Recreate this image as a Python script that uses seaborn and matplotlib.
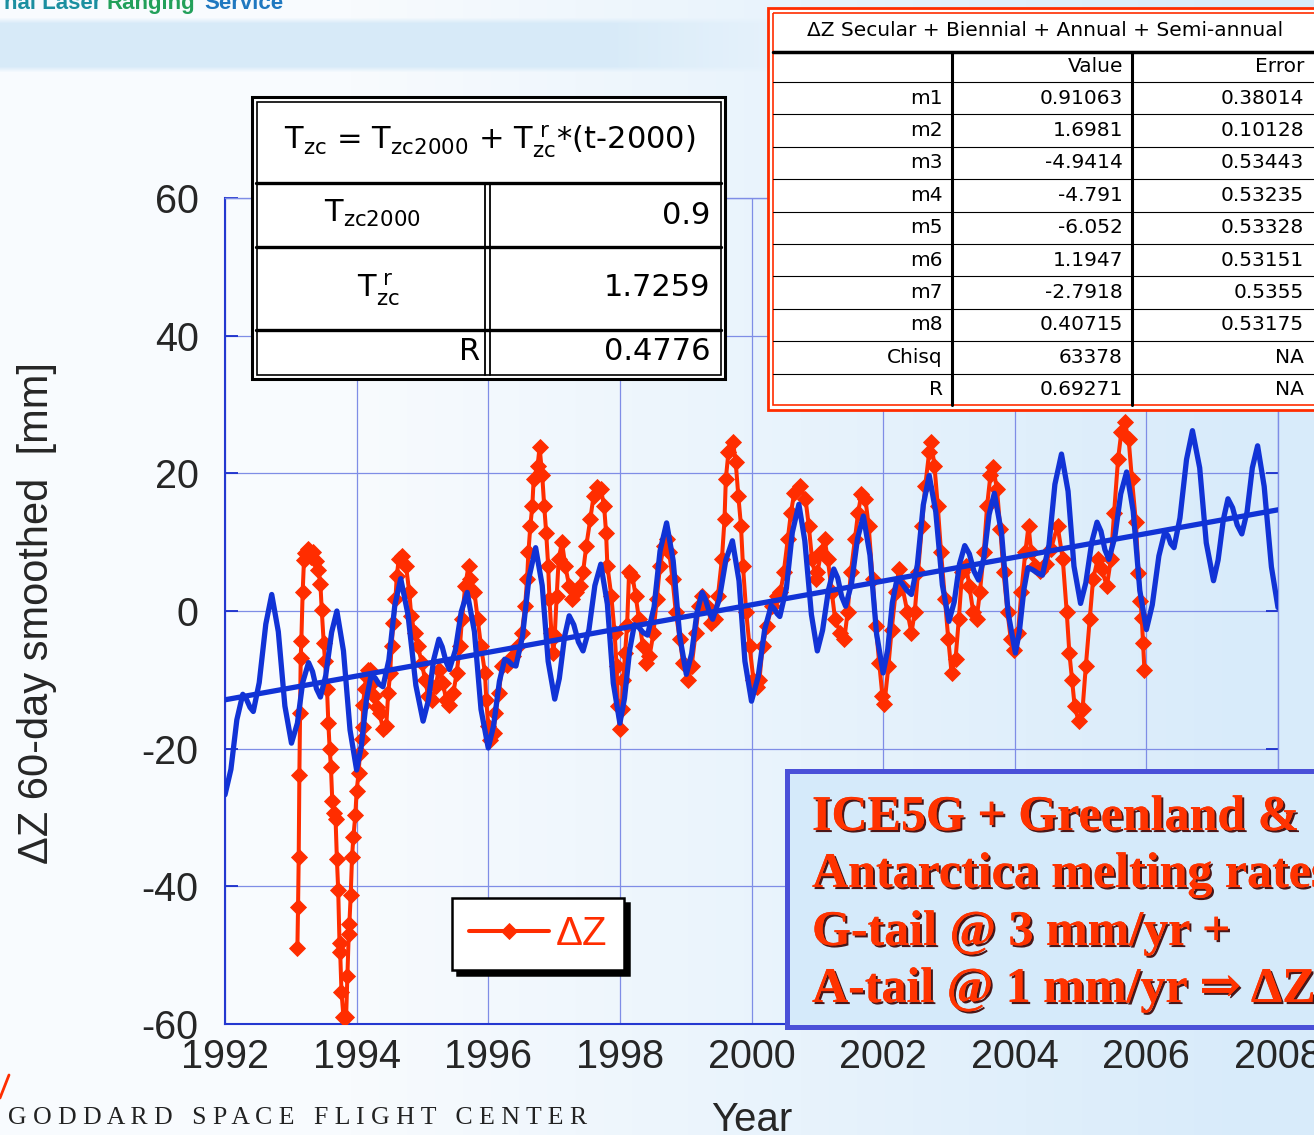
import numpy as np
import pandas as pd
import matplotlib
matplotlib.use("Agg")
import matplotlib.pyplot as plt
import matplotlib.patheffects as pe
from matplotlib.patches import Rectangle
from matplotlib.colors import to_rgb
import seaborn as sns

# fitted curve: secular + biennial + annual + semi-annual (blue)
fit_years = [1992.00, 1992.09, 1992.18, 1992.27, 1992.32, 1992.38, 1992.43, 1992.52, 1992.62, 1992.71,
             1992.81, 1992.91, 1993.01, 1993.10, 1993.18, 1993.27, 1993.33, 1993.39, 1993.45, 1993.53,
             1993.62, 1993.70, 1993.80, 1993.90, 1994.00, 1994.07, 1994.15, 1994.22, 1994.28, 1994.34,
             1994.40, 1994.49, 1994.58, 1994.67, 1994.78, 1994.90, 1995.01, 1995.09, 1995.17, 1995.25,
             1995.30, 1995.36, 1995.41, 1995.50, 1995.59, 1995.68, 1995.79, 1995.89, 1996.00, 1996.08,
             1996.17, 1996.25, 1996.31, 1996.36, 1996.42, 1996.52, 1996.62, 1996.72, 1996.82, 1996.91,
             1997.01, 1997.08, 1997.16, 1997.23, 1997.30, 1997.37, 1997.44, 1997.53, 1997.62, 1997.71,
             1997.81, 1997.90, 1998.00, 1998.07, 1998.15, 1998.22, 1998.29, 1998.35, 1998.42, 1998.52,
             1998.61, 1998.71, 1998.81, 1998.91, 1999.01, 1999.09, 1999.17, 1999.25, 1999.30, 1999.36,
             1999.41, 1999.51, 1999.61, 1999.71, 1999.81, 1999.90, 2000.00, 2000.10, 2000.20, 2000.30,
             2000.34, 2000.39, 2000.43, 2000.53, 2000.62, 2000.72, 2000.81, 2000.91, 2001.00, 2001.08,
             2001.17, 2001.25, 2001.31, 2001.37, 2001.43, 2001.52, 2001.61, 2001.70, 2001.80, 2001.90,
             2002.00, 2002.07, 2002.14, 2002.21, 2002.28, 2002.36, 2002.43, 2002.52, 2002.61, 2002.70,
             2002.80, 2002.90, 2003.00, 2003.08, 2003.16, 2003.24, 2003.31, 2003.38, 2003.45, 2003.53,
             2003.61, 2003.69, 2003.80, 2003.90, 2004.01, 2004.07, 2004.14, 2004.20, 2004.27, 2004.35,
             2004.42, 2004.52, 2004.61, 2004.71, 2004.81, 2004.90, 2005.00, 2005.08, 2005.17, 2005.25,
             2005.31, 2005.37, 2005.43, 2005.52, 2005.61, 2005.70, 2005.80, 2005.90, 2006.00, 2006.09,
             2006.19, 2006.28, 2006.33, 2006.37, 2006.42, 2006.51, 2006.61, 2006.70, 2006.81, 2006.91,
             2007.02, 2007.09, 2007.17, 2007.24, 2007.31, 2007.38, 2007.45, 2007.53, 2007.61, 2007.69,
             2007.79, 2007.90, 2008.00]
fit_vals = [-26.7, -23.0, -15.8, -12.1, -12.7, -14.0, -14.6, -10.4, -1.9, 2.4,
            -3.0, -13.8, -19.2, -16.3, -10.4, -7.5, -8.8, -11.3, -12.5, -9.4,
            -3.1, 0.0, -5.8, -17.3, -23.1, -19.7, -12.8, -9.3, -9.7, -10.6,
            -11.0, -7.1, 0.8, 4.7, -0.5, -10.8, -16.0, -13.0, -7.1, -4.1,
            -5.2, -7.4, -8.5, -5.7, -0.1, 2.7, -3.0, -14.3, -19.9, -16.7,
            -10.2, -7.0, -7.3, -7.8, -8.0, -3.7, 4.9, 9.2, 3.7, -7.3,
            -12.8, -9.8, -3.7, -0.7, -2.0, -4.5, -5.8, -2.7, 3.7, 6.8,
            1.0, -10.5, -16.3, -12.7, -5.6, -2.0, -2.4, -3.1, -3.5, 0.6,
            8.7, 12.8, 7.3, -3.7, -9.2, -6.2, -0.3, 2.7, 1.7, -0.2,
            -1.2, 1.7, 7.4, 10.2, 4.4, -7.3, -13.1, -9.6, -2.7, 0.8,
            0.4, -0.4, -0.8, 3.3, 11.4, 15.5, 10.2, -0.5, -5.8, -2.8,
            3.1, 6.1, 4.8, 2.1, 0.7, 4.0, 10.5, 13.8, 8.1, -3.3,
            -9.0, -5.6, 1.2, 4.6, 4.1, 3.0, 2.4, 6.7, 15.4, 19.7,
            14.4, 3.8, -1.5, 1.3, 6.8, 9.5, 8.3, 5.8, 4.5, 7.7,
            14.0, 17.1, 11.3, -0.3, -6.1, -3.0, 3.2, 6.3, 6.0, 5.5,
            5.2, 9.6, 18.4, 22.8, 17.4, 6.5, 1.1, 4.1, 10.0, 12.9,
            11.6, 8.9, 7.5, 10.7, 17.0, 20.2, 14.5, 3.0, -2.7, 0.9,
            8.0, 11.5, 10.9, 9.8, 9.2, 13.5, 22.0, 26.2, 20.8, 9.9,
            4.4, 7.4, 13.3, 16.3, 15.0, 12.5, 11.2, 14.4, 20.8, 24.0,
            18.1, 6.4, 0.5]

# secular trend line (blue straight line)
trend_years = [1992.0, 2008.0]
trend_vals = [-12.9, 14.7]

# observed Delta Z, 60-day smoothed (red)
dz_years = [1993.10, 1993.11, 1993.12, 1993.13, 1993.14, 1993.15, 1993.16, 1993.18, 1993.20, 1993.22,
            1993.26, 1993.30, 1993.34, 1993.38, 1993.42, 1993.45, 1993.47, 1993.50, 1993.52, 1993.55,
            1993.57, 1993.59, 1993.61, 1993.63, 1993.66, 1993.68, 1993.70, 1993.72, 1993.74, 1993.75,
            1993.77, 1993.80, 1993.82, 1993.84, 1993.86, 1993.88, 1993.89, 1993.91, 1993.93, 1993.95,
            1993.98, 1994.00, 1994.03, 1994.05, 1994.08, 1994.09, 1994.10, 1994.12, 1994.15, 1994.18,
            1994.21, 1994.24, 1994.27, 1994.31, 1994.35, 1994.40, 1994.45, 1994.48, 1994.51, 1994.53,
            1994.56, 1994.59, 1994.61, 1994.64, 1994.69, 1994.75, 1994.80, 1994.83, 1994.88, 1994.93,
            1994.99, 1995.04, 1995.09, 1995.15, 1995.20, 1995.25, 1995.31, 1995.36, 1995.41, 1995.47,
            1995.52, 1995.57, 1995.60, 1995.65, 1995.70, 1995.73, 1995.79, 1995.84, 1995.89, 1995.95,
            1995.97, 1996.00, 1996.03, 1996.08, 1996.11, 1996.16, 1996.21, 1996.29, 1996.37, 1996.45,
            1996.51, 1996.56, 1996.59, 1996.61, 1996.64, 1996.67, 1996.69, 1996.75, 1996.78, 1996.82,
            1996.85, 1996.88, 1996.91, 1996.93, 1996.96, 1996.99, 1997.01, 1997.04, 1997.07, 1997.12,
            1997.17, 1997.23, 1997.28, 1997.33, 1997.39, 1997.44, 1997.49, 1997.55, 1997.60, 1997.65,
            1997.71, 1997.76, 1997.79, 1997.81, 1997.87, 1997.92, 1997.95, 1997.97, 1998.00, 1998.03,
            1998.05, 1998.08, 1998.11, 1998.14, 1998.19, 1998.24, 1998.29, 1998.35, 1998.40, 1998.45,
            1998.51, 1998.56, 1998.61, 1998.67, 1998.71, 1998.75, 1998.80, 1998.85, 1998.91, 1998.96,
            1999.04, 1999.09, 1999.15, 1999.20, 1999.25, 1999.33, 1999.39, 1999.44, 1999.49, 1999.55,
            1999.59, 1999.61, 1999.65, 1999.72, 1999.76, 1999.80, 1999.84, 1999.87, 1999.92, 1999.97,
            2000.03, 2000.08, 2000.12, 2000.17, 2000.23, 2000.31, 2000.39, 2000.44, 2000.49, 2000.55,
            2000.60, 2000.65, 2000.74, 2000.82, 2000.87, 2000.92, 2000.98, 2001.00, 2001.06, 2001.11,
            2001.16, 2001.22, 2001.27, 2001.35, 2001.41, 2001.46, 2001.51, 2001.57, 2001.62, 2001.67,
            2001.73, 2001.78, 2001.84, 2001.89, 2001.94, 2001.99, 2002.02, 2002.08, 2002.13, 2002.19,
            2002.24, 2002.29, 2002.37, 2002.43, 2002.48, 2002.53, 2002.59, 2002.64, 2002.70, 2002.73,
            2002.78, 2002.83, 2002.88, 2002.94, 2002.99, 2003.04, 2003.10, 2003.15, 2003.20, 2003.26,
            2003.31, 2003.37, 2003.42, 2003.47, 2003.53, 2003.58, 2003.63, 2003.67, 2003.73, 2003.78,
            2003.83, 2003.89, 2003.94, 2003.99, 2004.05, 2004.10, 2004.16, 2004.21, 2004.25, 2004.31,
            2004.39, 2004.47, 2004.55, 2004.65, 2004.73, 2004.79, 2004.83, 2004.87, 2004.91, 2004.97,
            2005.03, 2005.08, 2005.14, 2005.19, 2005.26, 2005.32, 2005.40, 2005.46, 2005.51, 2005.57,
            2005.62, 2005.67, 2005.73, 2005.78, 2005.84, 2005.88, 2005.91, 2005.93, 2005.95, 2005.97]
dz_vals = [-48.9, -43.0, -35.8, -23.8, -14.8, -6.9, -4.3, 2.7, 7.4, 8.4,
           9.0, 7.8, 8.6, 7.2, 6.0, 3.9, 0.1, -4.6, -7.2, -11.3,
           -16.2, -20.0, -22.7, -27.6, -29.4, -30.2, -36.0, -40.5, -48.3, -49.5,
           -55.3, -59.0, -61.0, -59.0, -53.0, -46.9, -45.4, -41.3, -35.8, -32.9,
           -29.7, -26.2, -23.5, -20.6, -18.6, -16.8, -13.6, -11.3, -9.5, -8.6,
           -8.5, -10.5, -12.4, -14.0, -14.8, -17.2, -16.7, -11.9, -9.0, -5.1,
           -1.7, 1.7, 5.1, 7.5, 8.0, 6.6, 2.7, -0.7, -3.2, -5.1,
           -7.5, -10.0, -12.4, -12.9, -10.9, -8.5, -10.4, -12.9, -13.6, -11.9,
           -9.0, -5.1, -1.2, 3.6, 6.6, 4.6, 2.7, -1.2, -5.1, -9.0,
           -12.9, -16.7, -18.7, -17.7, -14.8, -11.9, -8.0, -7.8, -6.6, -5.1,
           -3.2, 0.7, 4.6, 8.5, 12.4, 15.3, 19.2, 21.1, 23.8, 19.7,
           15.3, 11.4, 6.6, 1.7, -3.2, -6.1, -3.6, 2.2, 7.5, 10.0,
           6.6, 3.6, 1.7, 2.7, 3.6, 5.6, 9.5, 13.3, 16.7, 18.0,
           17.7, 15.3, 11.4, 6.6, 2.2, -3.2, -8.0, -13.8, -17.2, -14.3,
           -10.0, -6.1, -2.0, 5.6, 5.1, 2.2, -1.2, -5.1, -7.5, -6.6,
           -3.2, 1.7, 6.6, 9.5, 10.4, 8.5, 4.6, -0.2, -4.1, -7.5,
           -10.0, -8.0, -3.2, 0.7, 2.2, 0.7, -1.7, -1.2, 2.2, 7.5,
           13.3, 19.2, 23.1, 24.5, 21.6, 16.7, 12.4, 6.6, -0.2, -5.1,
           -10.0, -11.0, -10.0, -5.1, -2.2, 0.7, 2.2, 2.7, 5.6, 10.4,
           14.3, 17.2, 18.2, 16.3, 12.4, 7.5, 4.6, 5.6, 8.5, 10.4,
           7.5, 2.7, -1.2, -3.2, -4.1, -0.2, 5.6, 10.4, 14.3, 17.0,
           16.3, 12.4, 4.6, -2.2, -7.5, -12.4, -13.5, -8.0, -2.7, 2.7,
           6.1, 3.6, -0.2, -3.2, -0.2, 5.6, 12.4, 18.2, 23.1, 24.5,
           21.1, 15.3, 8.5, 1.7, -4.1, -9.0, -7.0, -1.2, 5.6, 6.6,
           3.6, -0.2, -1.2, 2.7, 8.5, 15.3, 19.7, 20.9, 17.7, 11.9,
           5.6, -0.2, -4.1, -5.6, -3.2, 2.7, 8.5, 12.4, 8.5, 6.6,
           5.8, 6.8, 9.0, 12.4, 7.5, -0.2, -6.1, -10.0, -13.8, -16.0,
           -14.3, -8.0, -1.2, 4.6, 7.5, 6.1, 3.6, 7.5, 14.3, 22.1,
           26.0, 27.4, 25.0, 19.2, 13.0, 5.5, 1.5, -1.0, -4.6, -8.5]

x_ticks = [1992, 1994, 1996, 1998, 2000, 2002, 2004, 2006, 2008]
y_ticks = [-60, -40, -20, 0, 20, 40, 60]

# fit summary (left inset table)
fit_row_values = ["0.9", "1.7259", "0.4776"]

# coefficient table (right inset)
coef_names = ["m1", "m2", "m3", "m4", "m5", "m6", "m7", "m8", "Chisq", "R"]
coef_values = ["0.91063", "1.6981", "-4.9414", "-4.791", "-6.052", "1.1947",
               "-2.7918", "0.40715", "63378", "0.69271"]
coef_errors = ["0.38014", "0.10128", "0.53443", "0.53235", "0.53328", "0.53151",
               "0.5355", "0.53175", "NA", "NA"]

note_lines = ["ICE5G + Greenland &", "Antarctica melting rates",
              "G-tail @ 3 mm/yr +", "A-tail @ 1 mm/yr \u21d2 \u0394Z"]

RED = "#ff2d00"
BLUE = "#1133d6"
GRID = "#7f8de6"

sns.set_style("white")
plt.rcParams["font.family"] = ["Liberation Sans", "DejaVu Sans"]
plt.rcParams["mathtext.fontset"] = "dejavusans"
plt.rcParams["axes.unicode_minus"] = False

W, H = 1314, 1135
fig = plt.figure(figsize=(W / 100, H / 100), dpi=100)

# page background (light gradient + header band)
bg = fig.add_axes([0, 0, 1, 1], zorder=-10)
tx = np.clip((np.arange(W) - 350) / 900.0, 0, 1)
c0 = np.array(to_rgb("#f8fbfe"))
c1 = np.array(to_rgb("#d8ebfa"))
img = np.ones((H, W, 3)) * (c0 + (c1 - c0) * tx[:, None])[None, :, :]
yy = np.arange(H)
wy = np.clip(np.minimum(yy - 17, 72 - yy) / 6.0, 0, 1)
wx = np.clip((820 - np.arange(W)) / 220.0, 0, 1)
a = (wy[:, None] * wx[None, :])[..., None]
img = img * (1 - a) + np.array(to_rgb("#d7eaf8")) * a
bg.imshow(img, aspect="auto")
bg.axis("off")

# main axes
ax = fig.add_axes([225 / W, 1 - 1024 / H, 1053 / W, 826 / H])
ax.patch.set_alpha(0)

dz_df = pd.DataFrame({"year": dz_years, "dz": dz_vals})
fit_df = pd.DataFrame({"year": fit_years, "dz": fit_vals})
trend_df = pd.DataFrame({"year": trend_years, "dz": trend_vals})

sns.lineplot(data=dz_df, x="year", y="dz", ax=ax, color=RED, linewidth=2.9,
             marker="D", markersize=8, markeredgecolor=RED, markeredgewidth=0.6,
             sort=False, estimator=None, label="\u0394Z", zorder=3)
sns.lineplot(data=fit_df, x="year", y="dz", ax=ax, color=BLUE, linewidth=3.8,
             sort=False, estimator=None, zorder=4, solid_joinstyle="round")
sns.lineplot(data=trend_df, x="year", y="dz", ax=ax, color=BLUE, linewidth=3.8,
             sort=False, estimator=None, zorder=4)

ax.set_xlim(1992, 2008)
ax.set_ylim(-60, 60)
ax.set_xticks(x_ticks)
ax.set_xticklabels([str(v) for v in x_ticks])
ax.set_yticks(y_ticks)
ax.set_yticklabels([str(v) for v in y_ticks])
ax.grid(True, color=GRID, linewidth=0.9)
ax.set_axisbelow(True)
ax.tick_params(axis="y", direction="in", length=9, width=1.3, color="#1a2ecc",
               left=True, right=True, labelsize=28.5, pad=19)
ax.tick_params(axis="x", length=0, labelsize=28.5, pad=10)
for side, sp in ax.spines.items():
    sp.set_color("#2438d0" if side in ("left", "bottom") else GRID)
    sp.set_linewidth(1.5 if side in ("left", "bottom") else 1.0)

ax.set_ylabel("\u0394Z 60-day smoothed  [mm]", fontsize=30)
ax.yaxis.set_label_coords(-0.160, 0.498)
ax.set_xlabel("Year", fontsize=29)
ax.xaxis.set_label_coords(0.5005, -0.093)

handles, labels = ax.get_legend_handles_labels()
leg = ax.legend(handles=handles[:1], labels=["\u0394Z"], loc="upper left",
                bbox_to_anchor=(0.2156, 0.1525), borderaxespad=0, fontsize=29,
                frameon=True, fancybox=False, edgecolor="black", framealpha=1,
                borderpad=0.42, handlelength=2.0, handletextpad=0.15,
                shadow={"ox": 3.5, "oy": -3.5, "color": "black", "alpha": 1})
leg.get_frame().set_linewidth(1.8)
for t in leg.get_texts():
    t.set_color(RED)

# overlay in pixel coordinates for the inset tables and note box
ov = fig.add_axes([0, 0, 1, 1], zorder=5)
ov.set_xlim(0, W)
ov.set_ylim(H, 0)
ov.axis("off")

# left inset: linear fit summary
ov.add_patch(Rectangle((252, 97), 473, 282, facecolor="white", edgecolor="black", lw=2.2))
ov.add_patch(Rectangle((256.5, 101.5), 464, 273, facecolor="none", edgecolor="black", lw=1.2))
for y in (183, 247, 330):
    ov.plot([256, 721], [y, y], color="black", lw=2.4)
for x in (485, 489.5):
    ov.plot([x, x], [183, 375], color="black", lw=1.3)
tfont = dict(family="DejaVu Sans", fontsize=22, color="black")
ov.text(490, 142, r"T$_{\mathregular{zc}}$ = T$_{\mathregular{zc2000}}$ + T$_{\mathregular{zc}}^{\mathregular{\ r}}$*(t-2000)",
        ha="center", va="center", **tfont)
ov.text(372, 213, r"T$_{\mathregular{zc2000}}$", ha="center", va="center", **tfont)
ov.text(378, 290, r"T$_{\mathregular{zc}}^{\mathregular{\ r}}$", ha="center", va="center", **tfont)
ov.text(480, 352, "R", ha="right", va="center", **tfont)
for yv, val in zip((215, 288, 352), fit_row_values):
    ov.text(710, yv, val, ha="right", va="center", **tfont)

# right inset: coefficient table
ov.add_patch(Rectangle((768, 8), 620, 402, facecolor="white", edgecolor=RED, lw=2.0))
ov.add_patch(Rectangle((773, 13), 620, 392, facecolor="none", edgecolor=RED, lw=1.2))
cfont = dict(family="DejaVu Sans", fontsize=14.5, color="black")
ov.text(1045, 31, "\u0394Z Secular + Biennial + Annual + Semi-annual", ha="center", va="center", **cfont)
ov.plot([773, W], [52, 52], color="black", lw=2.5)
ov.text(1123, 67, "Value", ha="right", va="center", **cfont)
ov.text(1304, 67, "Error", ha="right", va="center", **cfont)
row_h = 32.4
for i, (nm, v, e) in enumerate(zip(coef_names, coef_values, coef_errors)):
    ytop = 82 + i * row_h
    ov.plot([773, W], [ytop, ytop], color="black", lw=0.8)
    yc = ytop + row_h / 2
    ov.text(943, yc, nm, ha="right", va="center", **cfont)
    ov.text(1123, yc, v, ha="right", va="center", **cfont)
    ov.text(1304, yc, e, ha="right", va="center", **cfont)
for x in (952, 1132):
    ov.plot([x, x], [53, 405], color="black", lw=2.2)

# note box
ov.add_patch(Rectangle((787, 771), 560, 256, facecolor="#d5eafa", edgecolor="#4a50d8", lw=3.6))
for line, yb in zip(note_lines, (830, 887, 945, 1002)):
    ov.text(812, yb, line, ha="left", va="baseline", fontsize=36, fontweight="bold",
            family=["Liberation Serif", "DejaVu Serif"], color="#ff3300",
            path_effects=[pe.withSimplePatchShadow(offset=(1.5, -1.5), shadow_rgbFace="#3a0000", alpha=0.9),
                          pe.Normal()])

# page furniture
hfont = dict(ha="left", va="baseline", fontsize=16, fontweight="bold", family=["Liberation Sans"])
ov.text(4, 9, "nal Laser", color="#1b8fa0", **hfont)
ov.text(106, 9, "Ranging", color="#22a05a", **hfont)
ov.text(204, 9, "Service", color="#1f78c0", **hfont)
ov.text(8, 1118, "G O D D A R D   S P A C E   F L I G H T   C E N T E R", ha="left", va="center",
        fontsize=18.5, family=["Liberation Serif"], color="#222222")
ov.plot([0, 9], [1098, 1075], color=RED, lw=2)

fig.savefig("out.png", dpi=100)
